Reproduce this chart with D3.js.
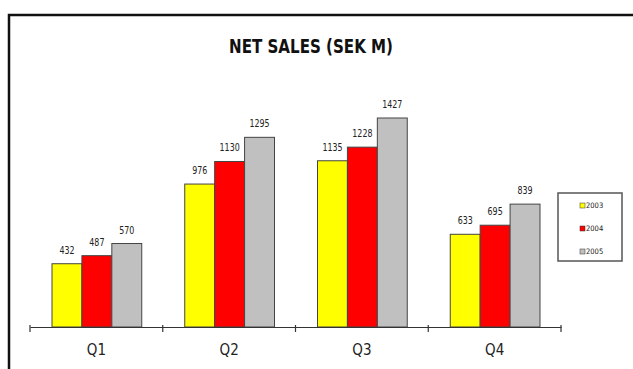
<!DOCTYPE html>
<html>
<head>
<meta charset="utf-8">
<script src="https://cdn.jsdelivr.net/npm/d3@7"></script>
<style>
  html, body { margin: 0; padding: 0; background: #fff; }
  svg { display: block; }
  text { font-family: "DejaVu Sans Condensed", "Liberation Sans Narrow", sans-serif; }
</style>
</head>
<body>
<svg id="chart" width="633" height="369"></svg>
<script>
// Net sales per quarter, SEK million
const quarters = ["Q1", "Q2", "Q3", "Q4"];
const years = ["2003", "2004", "2005"];
const sales2003 = [432, 976, 1135, 633];
const sales2004 = [487, 1130, 1228, 695];
const sales2005 = [570, 1295, 1427, 839];
const seriesValues = [sales2003, sales2004, sales2005];
const seriesColors = ["#ffff00", "#ff0000", "#c0c0c0"];

const svg = d3.select("#chart");

// outer frame
svg.append("rect")
  .attr("x", 9).attr("y", 15)
  .attr("width", 640).attr("height", 370)
  .attr("fill", "none").attr("stroke", "#111").attr("stroke-width", 2.5);

svg.append("text")
  .attr("x", 311).attr("y", 53)
  .attr("text-anchor", "middle")
  .attr("font-size", 19).attr("font-weight", "bold")
  .attr("textLength", 164).attr("lengthAdjust", "spacingAndGlyphs")
  .attr("fill", "#111")
  .text("NET SALES (SEK M)");

const plot = { left: 30, right: 561, top: 60, bottom: 327 };

const x0 = d3.scaleBand().domain(quarters)
  .range([plot.left, plot.right]).paddingInner(0).paddingOuter(0);
const x1 = d3.scaleBand().domain(d3.range(years.length))
  .range([22, x0.bandwidth() - 21]).padding(0);
const y = d3.scaleLinear().domain([0, 1427]).range([plot.bottom, 118]);

const groups = svg.append("g").selectAll("g")
  .data(quarters)
  .join("g")
  .attr("transform", d => `translate(${x0(d)},0)`);

groups.selectAll("rect")
  .data((q, qi) => seriesValues.map((vals, si) => ({ si, v: vals[qi] })))
  .join("rect")
  .attr("x", d => x1(d.si))
  .attr("y", d => y(d.v))
  .attr("width", x1.bandwidth())
  .attr("height", d => plot.bottom - y(d.v))
  .attr("fill", d => seriesColors[d.si])
  .attr("stroke", "#444").attr("stroke-width", 1);

// value labels, horizontally condensed
groups.selectAll("text.val")
  .data((q, qi) => seriesValues.map((vals, si) => ({ si, v: vals[qi] })))
  .join("text")
  .attr("class", "val")
  .attr("transform", d => `translate(${x1(d.si) + x1.bandwidth() / 2},${y(d.v) - 10}) scale(0.8,1)`)
  .attr("text-anchor", "middle")
  .attr("font-size", 11)
  .attr("fill", "#222")
  .text(d => d.v);

// category axis
const axis = d3.axisBottom(x0).tickSize(0).tickPadding(17);
const ax = svg.append("g")
  .attr("transform", `translate(0,${plot.bottom})`)
  .call(axis);
ax.select(".domain").attr("stroke", "#333").attr("stroke-width", 1.2);
ax.selectAll("text").attr("font-size", 15).attr("fill", "#222")
  .attr("font-family", "\"DejaVu Sans Condensed\", \"Liberation Sans Narrow\", sans-serif");

// boundary ticks between quarters
const bounds = quarters.map(q => x0(q)).concat([x0(quarters[quarters.length - 1]) + x0.bandwidth()]);
ax.selectAll("line.sep")
  .data(bounds)
  .join("line")
  .attr("class", "sep")
  .attr("x1", d => d).attr("x2", d => d)
  .attr("y1", -2).attr("y2", 5)
  .attr("stroke", "#333").attr("stroke-width", 1.2);

// legend
const legend = svg.append("g").attr("transform", "translate(558,193)");
legend.append("rect")
  .attr("width", 64).attr("height", 68)
  .attr("fill", "#fff").attr("stroke", "#555").attr("stroke-width", 1.5);
const items = legend.selectAll("g.item")
  .data(years)
  .join("g")
  .attr("class", "item")
  .attr("transform", (d, i) => `translate(22,${15 + i * 23})`);
items.append("rect")
  .attr("x", 0).attr("y", -5).attr("width", 5).attr("height", 5)
  .attr("fill", (d, i) => seriesColors[i]).attr("stroke", "#333").attr("stroke-width", 0.5);
items.append("text")
  .attr("x", 6).attr("y", 0)
  .attr("font-size", 7.5).attr("fill", "#222")
  .text(d => d);
</script>
</body>
</html>
